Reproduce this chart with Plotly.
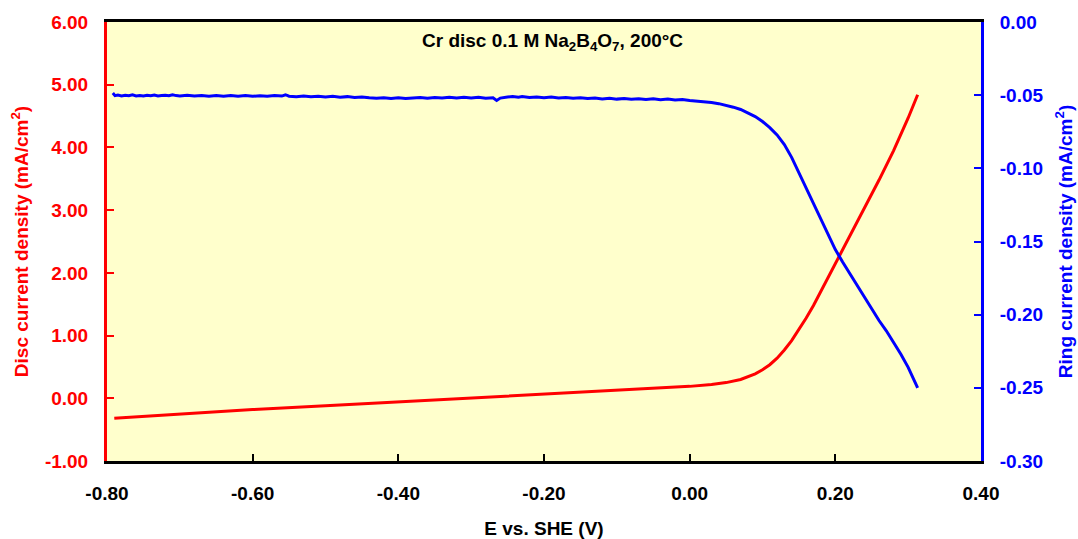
import plotly.graph_objects as go

# Disc current density vs potential (left axis)
disc_E = [-0.79, -0.70, -0.60, -0.50, -0.40, -0.30, -0.20, -0.10, 0.00, 0.03,
          0.05, 0.07, 0.08, 0.09, 0.10, 0.11, 0.12, 0.13, 0.14, 0.15,
          0.16, 0.17, 0.18, 0.19, 0.20, 0.22, 0.24, 0.26, 0.28, 0.29, 0.30, 0.313]
disc_i = [-0.32, -0.25, -0.18, -0.12, -0.06, 0.00, 0.06, 0.12, 0.19, 0.22,
          0.25, 0.30, 0.34, 0.39, 0.455, 0.535, 0.64, 0.77, 0.92, 1.09,
          1.28, 1.48, 1.70, 1.93, 2.16, 2.60, 3.04, 3.48, 3.95, 4.20, 4.47, 4.84]

# Ring current density vs potential (right axis)
ring_E = [-0.792, -0.789, -0.785, -0.78, -0.775, -0.77, -0.765, -0.76, -0.755, -0.75,
          -0.745, -0.74, -0.735, -0.73, -0.725, -0.72, -0.715, -0.71, -0.705, -0.70,
          -0.69, -0.68, -0.67, -0.66, -0.65, -0.64, -0.63, -0.62, -0.61, -0.60,
          -0.59, -0.58, -0.57, -0.56, -0.555, -0.55, -0.54, -0.53, -0.52, -0.51,
          -0.50, -0.49, -0.48, -0.47, -0.46, -0.45, -0.44, -0.43, -0.42, -0.41,
          -0.40, -0.39, -0.38, -0.37, -0.36, -0.35, -0.34, -0.33, -0.32, -0.31,
          -0.30, -0.29, -0.28, -0.27, -0.265, -0.26, -0.25, -0.243, -0.235, -0.23,
          -0.22, -0.21, -0.20, -0.19, -0.18, -0.17, -0.16, -0.15, -0.14, -0.13,
          -0.12, -0.11, -0.10, -0.09, -0.08, -0.07, -0.06, -0.05, -0.04, -0.03,
          -0.02, -0.01, 0.00, 0.01, 0.02, 0.03, 0.04, 0.05, 0.06, 0.07,
          0.08, 0.09, 0.10, 0.11, 0.12, 0.13, 0.14, 0.15, 0.16, 0.17,
          0.18, 0.19, 0.20, 0.21, 0.22, 0.23, 0.24, 0.25, 0.26, 0.27,
          0.28, 0.29, 0.30, 0.305, 0.31, 0.313]
ring_i = [-0.0485, -0.0503, -0.0499, -0.0505, -0.0501, -0.0504, -0.0498, -0.0505, -0.0502, -0.0506,
          -0.0501, -0.0504, -0.0499, -0.0505, -0.0502, -0.0500, -0.0504, -0.0497, -0.0503, -0.0505,
          -0.0500, -0.0506, -0.0502, -0.0507, -0.0503, -0.0508, -0.0502, -0.0507, -0.0503, -0.0508,
          -0.0504, -0.0508, -0.0503, -0.0506, -0.0497, -0.0507, -0.0510, -0.0505, -0.0511, -0.0507,
          -0.0513, -0.0508, -0.0514, -0.0510, -0.0516, -0.0512, -0.0518, -0.0521, -0.0517, -0.0522,
          -0.0518, -0.0523, -0.0519, -0.0516, -0.0521, -0.0516, -0.0520, -0.0514, -0.0519, -0.0515,
          -0.0520, -0.0515, -0.0521, -0.0518, -0.0536, -0.0520, -0.0513, -0.0509, -0.0514, -0.0510,
          -0.0516, -0.0512, -0.0517, -0.0513, -0.0519, -0.0516, -0.0521, -0.0517, -0.0523, -0.0520,
          -0.0526, -0.0521, -0.0527, -0.0523, -0.0528, -0.0524, -0.0529, -0.0525, -0.0531, -0.0527,
          -0.0533, -0.0530, -0.0537, -0.0540, -0.0547, -0.0550, -0.0558, -0.0568, -0.0582, -0.0598,
          -0.0620, -0.0646, -0.0680, -0.0722, -0.0772, -0.0838, -0.0925, -0.1030, -0.1140, -0.1245,
          -0.1350, -0.1460, -0.1555, -0.1640, -0.1720, -0.1800, -0.1880, -0.1960, -0.2040, -0.2110,
          -0.2190, -0.2270, -0.2360, -0.2410, -0.2460, -0.2500]

x_ticks = [-0.80, -0.60, -0.40, -0.20, 0.00, 0.20, 0.40]
x_ticktext = ["-0.80", "-0.60", "-0.40", "-0.20", "0.00", "0.20", "0.40"]
y1_ticks = [-1, 0, 1, 2, 3, 4, 5, 6]
y1_ticktext = ["-1.00", "0.00", "1.00", "2.00", "3.00", "4.00", "5.00", "6.00"]
y2_ticks = [-0.30, -0.25, -0.20, -0.15, -0.10, -0.05, 0.00]
y2_ticktext = ["-0.30", "-0.25", "-0.20", "-0.15", "-0.10", "-0.05", "0.00"]

RED = "#FF0000"
BLUE = "#0000FF"
FONT = "Liberation Sans, Arial, sans-serif"

fig = go.Figure()
fig.add_trace(go.Scatter(x=disc_E, y=disc_i, mode="lines", line=dict(color=RED, width=3),
                         showlegend=False, yaxis="y"))
fig.add_trace(go.Scatter(x=ring_E, y=ring_i, mode="lines", line=dict(color=BLUE, width=3),
                         showlegend=False, yaxis="y2"))

fig.update_layout(
    width=1078, height=539,
    margin=dict(l=107, r=97, t=22, b=78),
    paper_bgcolor="white",
    plot_bgcolor="#FFFFCC",
    font=dict(family=FONT, size=19, color="black"),
    xaxis=dict(
        range=[-0.80, 0.40], tickvals=x_ticks, ticktext=x_ticktext,
        showgrid=False, zeroline=False, automargin=False,
        showline=True, linecolor="black", linewidth=3, mirror=True,
        ticks="inside", ticklen=7, tickwidth=2, tickcolor="black",
        ticklabelstandoff=13,
        tickfont=dict(family=FONT, size=19, color="black", weight="bold"),
        title=dict(text="<b>E vs. SHE (V)</b>", font=dict(family=FONT, size=19, color="black"),
                   standoff=19),
    ),
    yaxis=dict(
        range=[-1, 6], tickvals=y1_ticks, ticktext=y1_ticktext,
        showgrid=False, zeroline=False, automargin=False,
        showline=True, linecolor=RED, linewidth=3,
        ticks="inside", ticklen=7, tickwidth=2, tickcolor=RED,
        ticklabelstandoff=12,
        tickfont=dict(family=FONT, size=19, color=RED, weight="bold"),
        title=dict(text="<b>Disc current density (mA/cm<sup>2</sup>)</b>",
                   font=dict(family=FONT, size=19, color=RED), standoff=12),
    ),
    yaxis2=dict(
        range=[-0.30, 0.00], tickvals=y2_ticks, ticktext=y2_ticktext,
        overlaying="y", side="right",
        showgrid=False, zeroline=False, automargin=False,
        showline=True, linecolor=BLUE, linewidth=3,
        ticks="inside", ticklen=7, tickwidth=2, tickcolor=BLUE,
        ticklabelstandoff=12,
        tickfont=dict(family=FONT, size=19, color=BLUE, weight="bold"),
        title=dict(text="<b>Ring current density (mA/cm<sup>2</sup>)</b>",
                   font=dict(family=FONT, size=19, color=BLUE), standoff=17),
    ),
    annotations=[dict(
        text="<b>Cr disc 0.1 M Na<sub>2</sub>B<sub>4</sub>O<sub>7</sub>, 200°C</b>",
        xref="paper", yref="paper", x=0.51, y=0.955, xanchor="center", yanchor="middle",
        showarrow=False, font=dict(family=FONT, size=19, color="black"),
    )],
)

fig.write_html("out.html")
